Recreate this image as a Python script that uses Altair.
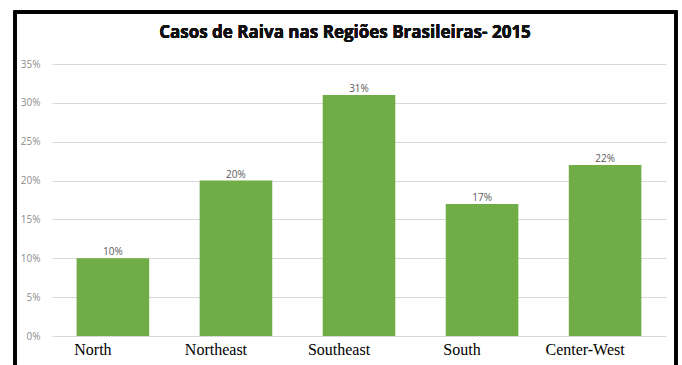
import altair as alt
import pandas as pd

regions = ["North", "Northeast", "Southeast", "South", "Center-West"]
values = [10, 20, 31, 17, 22]
labels = ["10%", "20%", "31%", "17%", "22%"]
y_ticks = [0, 5, 10, 15, 20, 25, 30, 35]

df = pd.DataFrame({"region": regions, "value": values, "label": labels})

W, H = 614, 272

x_enc = alt.X("region:N", sort=regions, title=None,
              scale=alt.Scale(paddingInner=0.41, paddingOuter=0.2),
              axis=alt.Axis(labelAngle=0, labelFont="Liberation Serif", labelFontSize=16,
                            labelColor="#000000", labelPadding=5, labelOffset=-20,
                            domain=False, ticks=False))
y_enc = alt.Y("value:Q", title=None,
              scale=alt.Scale(domain=[0, 35], nice=False),
              axis=alt.Axis(values=y_ticks,
                            labelExpr="datum.value + '%'", labelOverlap=False,
                            labelColor="#8c8c8c", labelFontSize=10, labelFont="Open Sans",
                            labelPadding=12, domain=False, ticks=False,
                            gridColor="#d9d9d9", gridWidth=1))

bars = alt.Chart(df).mark_bar(color="#70ad47").encode(x=x_enc, y=y_enc)

text = alt.Chart(df).mark_text(baseline="bottom", dy=-1, fontSize=10, color="#595959",
                               font="Open Sans").encode(
    x=x_enc, y=y_enc, text="label:N")

frame = alt.Chart(df).mark_rect(fill=None, stroke="#000000", strokeWidth=3).encode(
    x=alt.value(-37), x2=alt.value(624), y=alt.value(-52), y2=alt.value(330))

title = alt.Chart(df).mark_text(text="Casos de Raiva nas Regiões Brasileiras- 2015",
                                fontSize=17, fontWeight="bold", font="Open Sans",
                                color="#111111").encode(
    x=alt.value(293), y=alt.value(-31))

chart = alt.layer(bars, text, frame, title).properties(
    width=W, height=H,
    autosize=alt.AutoSizeParams(type="none"),
    padding={"left": 52, "top": 64, "right": 16, "bottom": 29},
).configure(background="#ffffff").configure_view(stroke=None)

chart.save("out.html", embed_options={"renderer": "svg", "actions": False})
